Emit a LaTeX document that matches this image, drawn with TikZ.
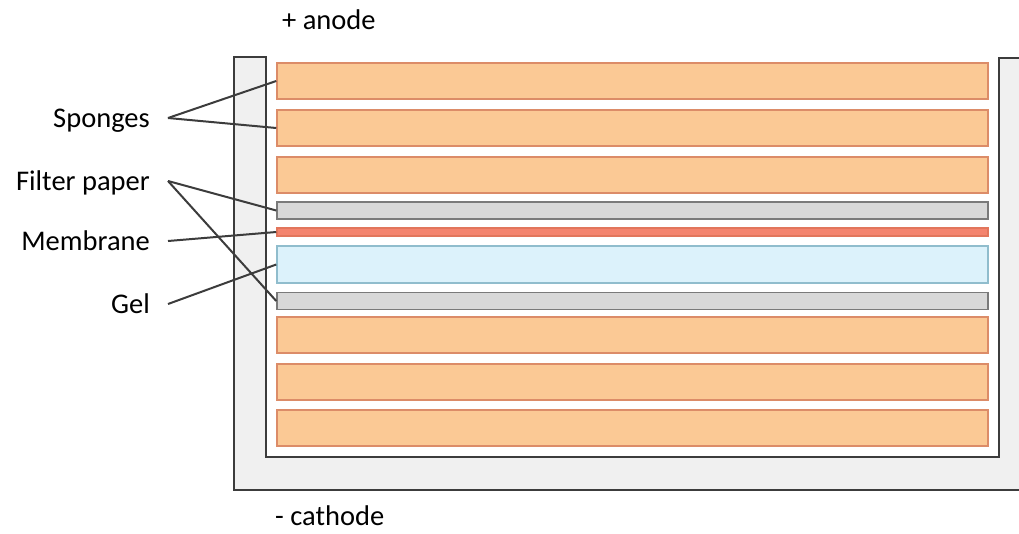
\documentclass[tikz,border=0pt]{standalone}
\usepackage{fontspec}
\setmainfont{Carlito}

\definecolor{spongefill}{HTML}{FBC995}
\definecolor{spongeedge}{HTML}{DC8C68}
\definecolor{filterfill}{HTML}{D8D8D8}
\definecolor{filteredge}{HTML}{7A7A7A}
\definecolor{membfill}{HTML}{F4846E}
\definecolor{membedge}{HTML}{E2765C}
\definecolor{gelfill}{HTML}{DCF2FB}
\definecolor{geledge}{HTML}{90BDCD}
\definecolor{tankfill}{HTML}{F0F0F0}
\definecolor{darkline}{HTML}{3C3C3C}

\begin{document}
\begin{tikzpicture}[x=1pt, y=-1pt,
		layer/.style={minimum width=711pt, inner sep=0pt, line width=1.5pt},
		sponge/.style={layer, draw=spongeedge, fill=spongefill, minimum height=36pt},
		filterp/.style={layer, draw=filteredge, fill=filterfill, minimum height=17pt},
		memb/.style={layer, draw=membedge, fill=membfill, minimum height=8pt},
		gelbox/.style={layer, draw=geledge, fill=gelfill, minimum height=37pt},
		lbl/.style={anchor=east, inner xsep=18pt, inner ysep=0pt, text height=18pt, text depth=0pt,
			font=\fontsize{28.5}{34}\selectfont},
		pole/.style={anchor=base west, inner sep=0pt, font=\fontsize{28.5}{34}\selectfont},
		conn/.style={draw=darkline, line width=2pt}]

		\useasboundingbox (0,0) rectangle (1019,533);

		%Vasca
		\filldraw[fill=tankfill, draw=darkline, line width=2.2pt]
			(1024,490) -- (234,490) -- (234,57) -- (266,57) -- (266,457)
			-- (999,457) -- (999,58) -- (1024,58);

		%Strati
		\node[sponge] (sponge1) at (632.5,81) {};
		\node[sponge] (sponge2) at (632.5,128) {};
		\node[sponge] (sponge3) at (632.5,175) {};
		\node[filterp] (filter1) at (632.5,210.5) {};
		\node[memb] (membrane) at (632.5,232) {};
		\node[gelbox] (gel) at (632.5,264.5) {};
		\node[filterp] (filter2) at (632.5,301) {};
		\node[sponge] (sponge4) at (632.5,335) {};
		\node[sponge] (sponge5) at (632.5,382) {};
		\node[sponge] (sponge6) at (632.5,428) {};

		%Etichette
		\node[lbl] (lblsponges) at (168,118) {Sponges};
		\node[lbl] (lblfilter) at (168,181) {Filter paper};
		\node[lbl] (lblmemb) at (168,241) {Membrane};
		\node[lbl] (lblgel) at (168,304) {Gel};

		\node[pole] (anode) at (282,29) {+ anode};
		\node[pole] (cathode) at (275,525) {- cathode};

		%Linee
		\draw[conn] (lblsponges.east) -- (sponge1.west);
		\draw[conn] (lblsponges.east) -- (sponge2.west);
		\draw[conn] (lblfilter.east) -- (filter1.west);
		\draw[conn] (lblfilter.east) -- (filter2.west);
		\draw[conn] (lblmemb.east) -- (membrane.west);
		\draw[conn] (lblgel.east) -- (gel.west);

	\end{tikzpicture}
\end{document}
